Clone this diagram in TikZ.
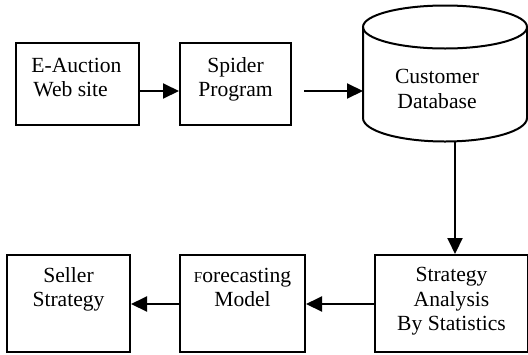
\documentclass[tikz,border=0pt]{standalone}
\usepackage{fontspec}
\setmainfont{Liberation Serif}
\usetikzlibrary{arrows.meta}
\tikzset{
  box/.style={draw, line width=1pt, rectangle, inner sep=0pt},
  txt/.style={inner sep=0pt, align=center, anchor=base, font=\fontsize{10.8}{12.25}\selectfont},
  arr/.style={line width=1pt, -{Triangle[length=8pt,width=7.5pt]}},
}
\begin{document}
\begin{tikzpicture}[x=0.5pt,y=-0.5pt]
\useasboundingbox (0,0) rectangle (528,354);
% top row
\node[box, minimum width=61.5pt, minimum height=41pt] (web) at (77.5,84) {};
\node[txt, align=left, anchor=base west] (webt) at (31,96.5) {E-Auction\\\hspace{1pt}Web site};
\node[box, minimum width=55.5pt, minimum height=41pt] (spider) at (235.5,84) {};
\node[txt] (spidert) at (235.5,96.5) {Spider\\Program};
% cylinder
\draw[line width=1pt] (445,27) ellipse [x radius=41pt, y radius=10.75pt];
\draw[line width=1pt] (363,27) -- (363,118) arc[start angle=180, end angle=360, x radius=41pt, y radius=11.75pt] -- (527,27);
\node[txt] (db) at (437,108) {Customer\\Database};
\coordinate (dbbot) at (455,141.5);
\coordinate (dbin) at (304,91);
% bottom row
\node[box, minimum width=61.5pt, minimum height=48.5pt] (seller) at (68.5,303.5) {};
\node[txt] (sellert) at (68.5,306.5) {Seller\\Strategy};
\node[box, minimum width=62.5pt, minimum height=48.5pt] (fore) at (242.5,303.5) {};
\node[txt] (foret) at (242.5,306.5) {{\fontsize{7.6}{8}\selectfont F}orecasting\\Model};
\node[box, minimum width=76.5pt, minimum height=48.5pt] (strat) at (451.5,303.5) {};
\node[txt] (stratt) at (451.5,330.5) {Strategy\\Analysis\\By Statistics};
% connectors
\draw[arr] (web.east |- 0,91) -- (spider.west |- 0,91);
\draw[arr] (dbin) -- (363,91);
\draw[arr] (dbbot) -- (strat.north -| dbbot);
\draw[arr] (strat.west |- 0,304) -- (fore.east |- 0,304);
\draw[arr] (fore.west |- 0,304) -- (seller.east |- 0,304);
\end{tikzpicture}
\end{document}
